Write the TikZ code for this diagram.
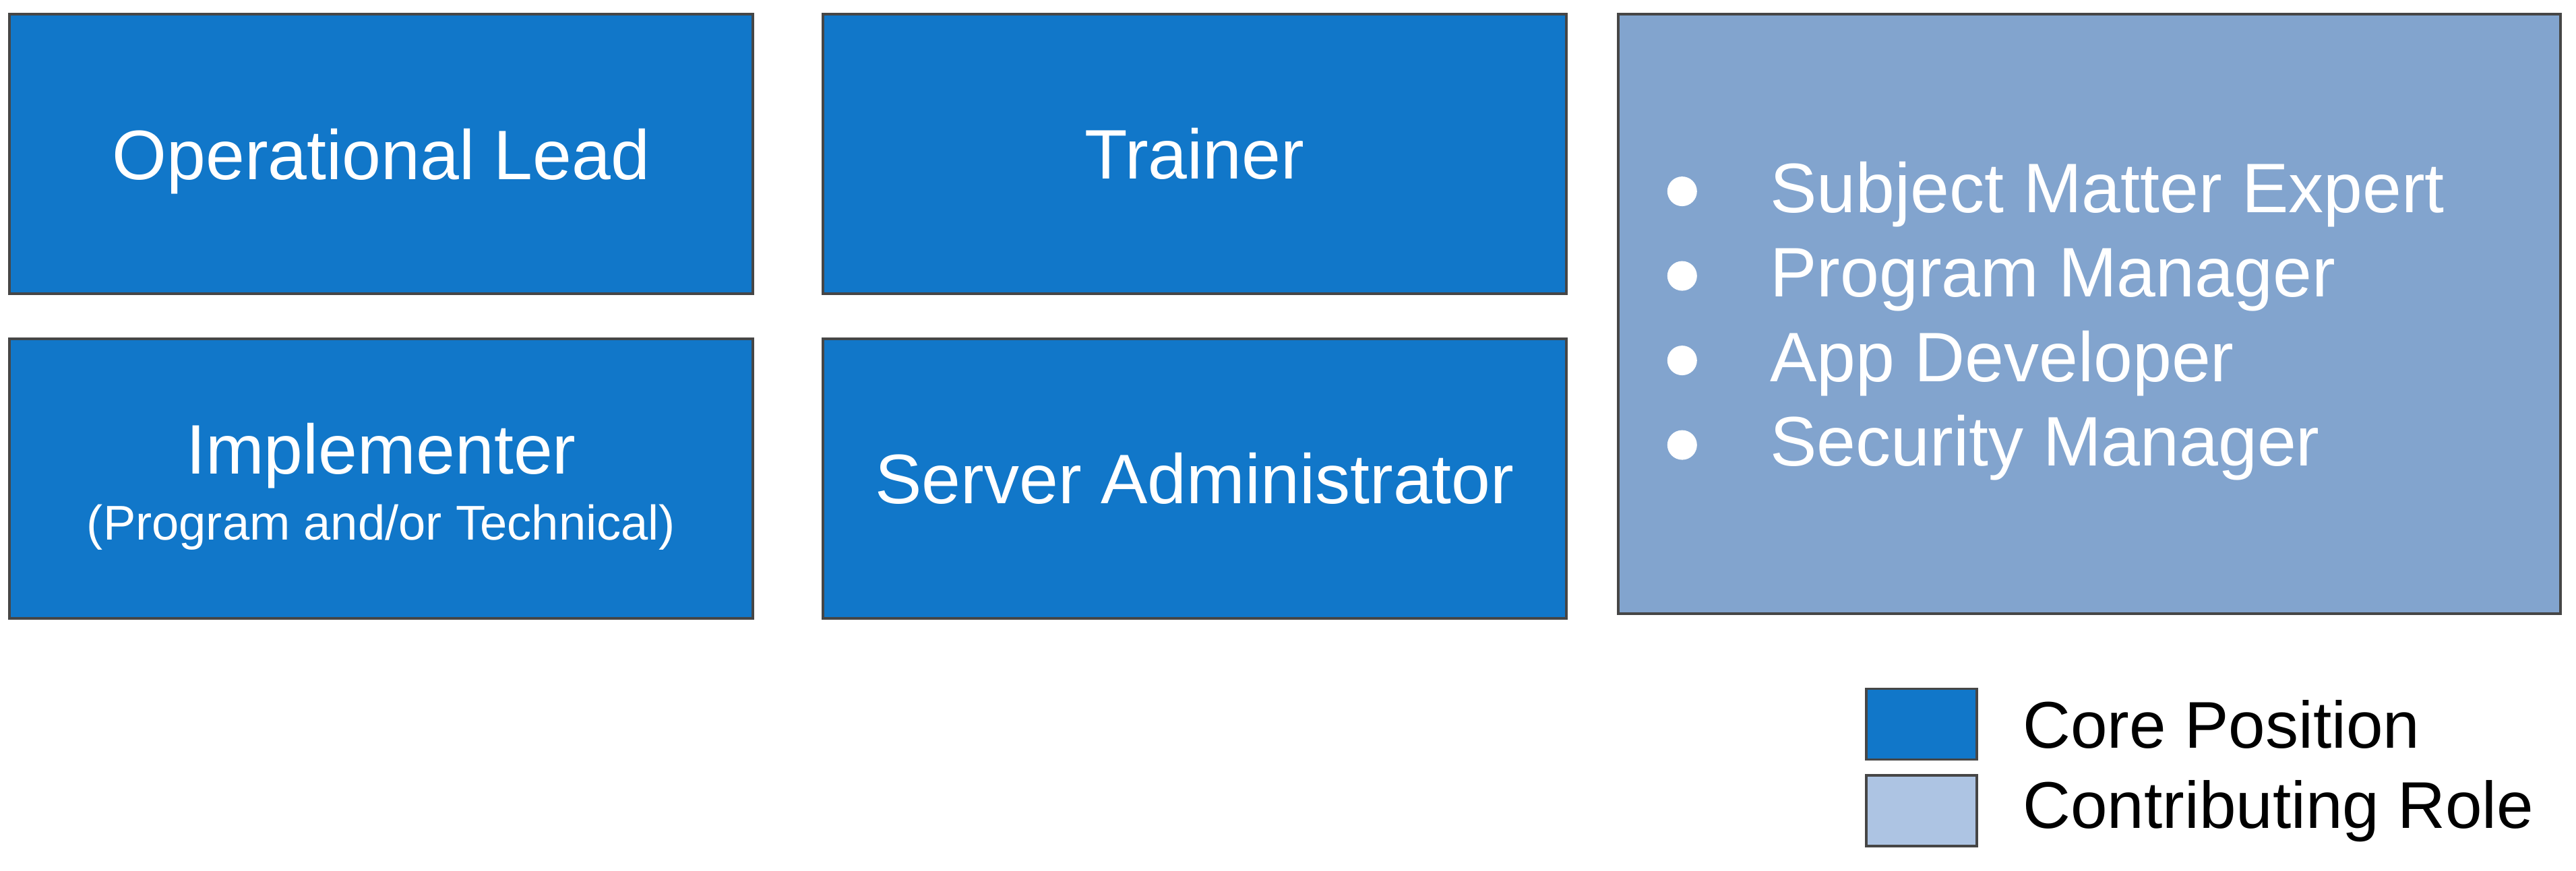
\documentclass[tikz,border=0pt]{standalone}
\usepackage{xcolor}
\usepackage{fontspec}
\setmainfont{Liberation Sans}
\usepackage{tikz}
\usetikzlibrary{positioning,calc}
\definecolor{coreblue}{HTML}{1177C9}
\definecolor{contribblue}{HTML}{82A4CE}
\definecolor{legendlight}{HTML}{ADC4E3}
\definecolor{edgegray}{HTML}{464646}

\begin{document}
\begin{tikzpicture}[
  corebox/.style={draw=edgegray,fill=coreblue,line width=1.1pt,text=white,align=center,
    minimum width=11.03cm,minimum height=4.15cm,font=\fontsize{29.6}{27}\selectfont},
  contribbox/.style={draw=edgegray,fill=contribblue,line width=1.1pt,
    minimum width=13.98cm,minimum height=8.9cm},
  itemtext/.style={text=white,inner sep=0pt,font=\fontsize{29.6}{34}\selectfont},
  bulletdot/.style={circle,fill=white,inner sep=0pt,minimum size=0.44cm},
  legendbox/.style={draw=edgegray,line width=1.1pt,minimum width=1.64cm,minimum height=1.05cm},
  legendtext/.style={inner sep=0pt,anchor=west,font=\fontsize{27.9}{32}\selectfont}]
\useasboundingbox (0,0) rectangle (38.22,-12.92);
% core positions
\node[corebox,text depth=0pt] (oplead) at (5.655,-2.285) {Operational Lead};
\node[corebox,right=1.0cm of oplead] (trainer) {Trainer};
\node[corebox,below=0.63cm of oplead] (impl) {\rule{0pt}{1.0cm}Implementer\\[0.03cm]{\fontsize{20.6}{24}\selectfont (Program and/or Technical)}};
\node[corebox,below=0.63cm of trainer] (servadm) {Server Administrator};
% contributing roles
\node[contribbox,anchor=north west] (contrib) at ([xshift=0.73cm]trainer.north east) {};
\foreach \i/\role in {1/Subject Matter Expert,2/Program Manager,3/App Developer,4/Security Manager}{
  \node[itemtext,anchor=base west] (item\i) at ($(contrib.north west)+(2.27,-2.96-1.255*\i+1.255)$) {\role};
  \node[bulletdot] (dot\i) at ($(item\i.base west)+(-1.3,0.31)$) {};
}
% legend
\node[legendbox,fill=coreblue] (legcore) at (28.51,-10.75) {};
\node[legendbox,fill=legendlight,below=0.2cm of legcore] (legcontrib) {};
\node[legendtext,right=0.66cm of legcore] (legcoretext) {Core Position};
\node[legendtext,right=0.66cm of legcontrib] (legcontribtext) {Contributing Role};
\end{tikzpicture}
\end{document}
